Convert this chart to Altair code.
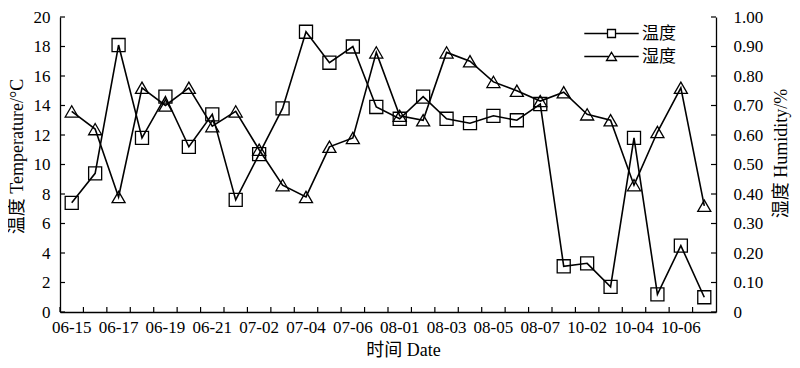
import altair as alt
import pandas as pd

dates = ["06-15", "06-16", "06-17", "06-18", "06-19", "06-20", "06-21", "07-01",
         "07-02", "07-03", "07-04", "07-05", "07-06", "07-07", "08-01", "08-02",
         "08-03", "08-04", "08-05", "08-06", "08-07", "10-01", "10-02", "10-03",
         "10-04", "10-05", "10-06", "10-07"]
shown_labels = ["06-15", "06-17", "06-19", "06-21", "07-02", "07-04", "07-06",
                "08-01", "08-03", "08-05", "08-07", "10-02", "10-04", "10-06"]
temperature = [7.4, 9.4, 18.1, 11.8, 14.6, 11.2, 13.4, 7.6, 10.7, 13.8, 19.0, 16.9,
               18.0, 13.9, 13.1, 14.6, 13.1, 12.8, 13.3, 13.0, 14.1, 3.1, 3.3, 1.7,
               11.8, 1.2, 4.5, 1.0]
humidity = [0.68, 0.62, 0.39, 0.76, 0.70, 0.76, 0.63, 0.68, 0.55, 0.43, 0.39, 0.56,
            0.59, 0.88, 0.665, 0.65, 0.88, 0.85, 0.78, 0.75, 0.715, 0.745, 0.67, 0.65,
            0.43, 0.61, 0.76, 0.36]
series_names = ["温度", "湿度"]
temp_ticks = [0, 2, 4, 6, 8, 10, 12, 14, 16, 18, 20]
hum_ticks = [0, 0.1, 0.2, 0.3, 0.4, 0.5, 0.6, 0.7, 0.8, 0.9, 1.0]

FONT = "Liberation Serif, Times New Roman, Noto Sans CJK SC"
W, H = 656, 295

tdf = pd.DataFrame({"date": dates, "value": temperature})
hdf = pd.DataFrame({"date": dates, "value": humidity})
xtick_df = pd.DataFrame({"date": dates})
ttick_df = pd.DataFrame({"value": temp_ticks})
htick_df = pd.DataFrame({"value": hum_ticks})
legend_df = pd.DataFrame({"series": series_names})

label_list = "[" + ",".join("'%s'" % s for s in shown_labels) + "]"

x_scale = alt.Scale(type="band", paddingInner=0, paddingOuter=0)
x_axis = alt.Axis(
    title="时间 Date", labelAngle=0,
    labelExpr="indexof(%s, datum.value) >= 0 ? datum.value : ''" % label_list,
    ticks=False, tickSize=0, labelPadding=7, grid=False,
    titleX=343, titleY=38, titleBaseline="middle", titleAlign="center",
)
x_enc = alt.X("date:N", sort=dates, bandPosition=0.5, scale=x_scale, axis=x_axis)
x_tick_enc = alt.X("date:N", sort=dates, bandPosition=0, scale=x_scale, axis=x_axis)

t_scale = alt.Scale(domain=[0, 20], nice=False)
h_scale = alt.Scale(domain=[0, 1], nice=False)

y_left = alt.Y(
    "value:Q", scale=t_scale,
    axis=alt.Axis(
        title="温度 Temperature/°C", values=temp_ticks, ticks=False, tickSize=0,
        labelPadding=10, grid=False, titleX=-43, titleY=139,
        titleBaseline="middle", titleAngle=270,
    ),
)
y_right = alt.Y(
    "value:Q", scale=h_scale,
    axis=alt.Axis(
        title="湿度 Humidity/%", orient="right", values=hum_ticks, ticks=False,
        tickSize=0, labelPadding=17, grid=False,
        labelExpr="datum.value == 0 ? '0' : format(datum.value, '.2f')",
        titleX=65, titleY=136, titleBaseline="middle", titleAngle=270,
    ),
)

# tick marks pointing inward
x_ticks = alt.Chart(xtick_df).mark_rule(color="black", strokeWidth=1.2).encode(
    x=x_tick_enc, y=alt.value(H), y2=alt.value(H - 5))
t_ticks = alt.Chart(ttick_df).mark_rule(color="black", strokeWidth=1.2).encode(
    y=y_left, x=alt.value(0), x2=alt.value(5))
h_ticks = alt.Chart(htick_df).mark_rule(color="black", strokeWidth=1.2).encode(
    y=y_right, x=alt.value(W), x2=alt.value(W - 5))

temp_line = alt.Chart(tdf).mark_line(color="black", strokeWidth=1.6).encode(x=x_enc, y=y_left)
temp_pts = alt.Chart(tdf).mark_point(
    filled=False, color="black", shape="square", size=170, strokeWidth=1.3, opacity=1
).encode(x=x_enc, y=y_left)
hum_line = alt.Chart(hdf).mark_line(color="black", strokeWidth=1.6).encode(x=x_enc, y=y_right)
hum_pts = alt.Chart(hdf).mark_point(
    filled=False, color="black", shape="triangle-up", size=170, strokeWidth=1.3, opacity=1
).encode(x=x_enc, y=y_right)

# legend symbols: line with marker
sq_path = "M-6.8,0L-1,0M1,0L6.8,0M-1,-1L1,-1L1,1L-1,1Z"
tri_path = "M-6.8,0L-0.75,0M0.75,0L6.8,0M0,-1.05L1.25,1L-1.25,1Z"
legend = alt.Legend(
    title=None, orient="none", legendX=543, legendY=8, padding=0,
    symbolSize=64, symbolStrokeColor="black", symbolFillColor="transparent",
    symbolStrokeWidth=1.3, symbolOpacity=1, labelOffset=22, rowPadding=5,
    labelFont=FONT, labelFontSize=17, labelColor="black",
)
legend_layer = alt.Chart(legend_df).mark_point(
    filled=False, color="black", opacity=0, size=64
).encode(
    shape=alt.Shape("series:N", sort=series_names,
                    scale=alt.Scale(domain=series_names, range=[sq_path, tri_path]),
                    legend=legend)
)

chart = alt.layer(
    alt.layer(x_ticks, t_ticks, temp_line, temp_pts),
    alt.layer(h_ticks, hum_line, hum_pts),
    legend_layer,
).resolve_scale(y="independent").properties(
    width=W, height=H, autosize="none", background="white",
    padding={"left": 52, "top": 9, "right": 76, "bottom": 48},
).configure_axis(
    labelFont=FONT, titleFont=FONT, labelFontSize=17, titleFontSize=18,
    titleFontWeight="normal", labelColor="black", titleColor="black",
    domainColor="black", domainWidth=1.3,
).configure_view(stroke=None)

chart.save("out.html", embed_options={"renderer": "svg", "actions": False})
